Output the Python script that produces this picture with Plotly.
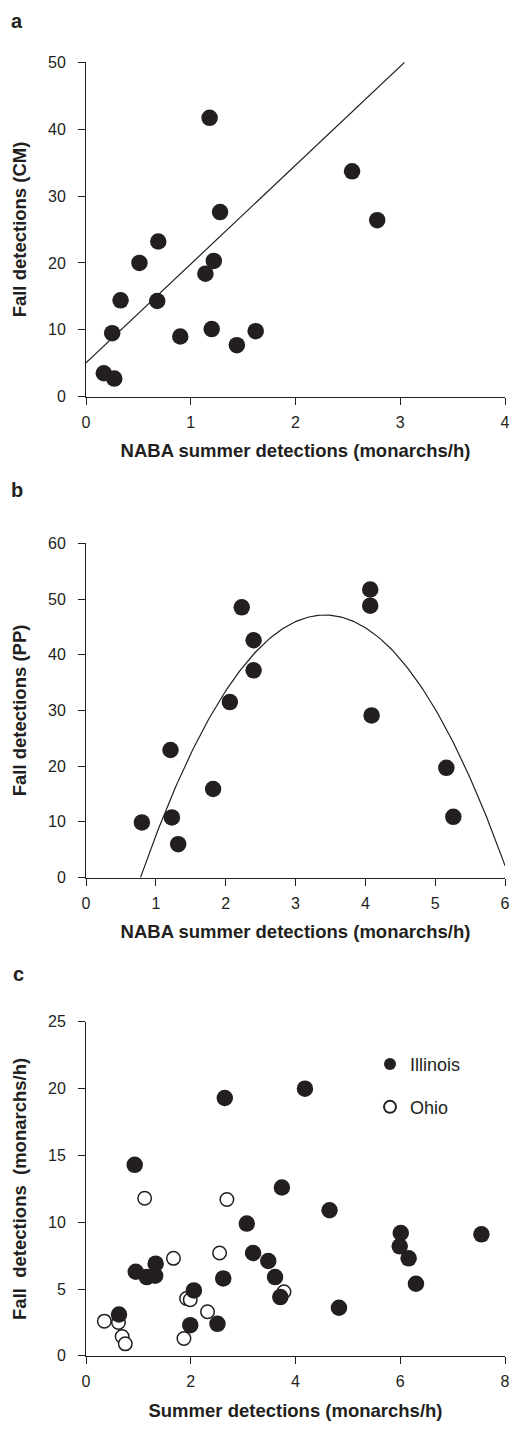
import numpy as np
import plotly.graph_objects as go

# ---------------- data ----------------
# Panel a: NABA summer vs fall detections (CM)
a_x = [0.17, 0.27, 0.25, 0.33, 0.51, 0.69, 0.68, 0.90, 1.14, 1.22, 1.18, 1.28, 1.20, 1.44, 1.62, 2.54, 2.78]
a_y = [3.5, 2.7, 9.5, 14.4, 20.0, 23.2, 14.3, 9.0, 18.4, 20.3, 41.7, 27.6, 10.1, 7.7, 9.8, 33.7, 26.4]
a_fit_intercept = 5.05
a_fit_slope = 14.78

# Panel b: NABA summer vs fall detections (PP)
b_x = [0.80, 1.21, 1.23, 1.32, 1.82, 2.06, 2.23, 2.40, 2.40, 4.07, 4.07, 4.09, 5.16, 5.26]
b_y = [9.9, 22.9, 10.8, 6.0, 15.9, 31.5, 48.5, 42.6, 37.2, 51.7, 48.8, 29.1, 19.7, 10.9]
b_fit_coef = [-6.76, 46.24, -31.95]  # quadratic: b2, b1, b0

# Panel c: Illinois and Ohio
c_ill_x = [0.93, 2.65, 4.18, 3.74, 4.65, 3.07, 6.01, 5.99, 6.16, 6.30, 7.55, 3.19, 3.48,
           3.61, 3.71, 4.83, 2.62, 2.06, 1.99, 2.51, 0.95, 1.33, 1.16, 1.32, 0.63]
c_ill_y = [14.3, 19.3, 20.0, 12.6, 10.9, 9.9, 9.2, 8.2, 7.3, 5.4, 9.1, 7.7, 7.1,
           5.9, 4.4, 3.6, 5.8, 4.9, 2.3, 2.4, 6.3, 6.9, 5.9, 6.0, 3.1]
c_ohio_x = [1.12, 2.69, 1.67, 2.55, 1.92, 1.99, 2.32, 1.87, 0.35, 0.62, 0.69, 0.75, 3.78]
c_ohio_y = [11.8, 11.7, 7.3, 7.7, 4.3, 4.2, 3.3, 1.3, 2.6, 2.5, 1.45, 0.9, 4.8]

# ---------------- layout geometry (pixels) ----------------
W, H = 512, 1438
ML, MR = 86, 7
PW = W - ML - MR
panels_px = [(55, 393.3), (541.7, 880), (1026, 1364)]  # (top, bottom)


def px_x(px):
    return (px - ML) / PW


def px_y(py):
    return 1 - py / H


INK = "#231f20"
FONT = "Liberation Sans, Arial, Helvetica, sans-serif"

fig = go.Figure()

# Panel a
xa = np.array([0, (50 - a_fit_intercept) / a_fit_slope])
fig.add_trace(go.Scatter(x=xa, y=a_fit_intercept + a_fit_slope * xa, mode="lines",
                         line=dict(color=INK, width=1.2), showlegend=False,
                         xaxis="x", yaxis="y", hoverinfo="skip"))
fig.add_trace(go.Scatter(x=a_x, y=a_y, mode="markers", showlegend=False,
                         marker=dict(size=16.5, color=INK), cliponaxis=False,
                         xaxis="x", yaxis="y"))

# Panel b
roots = np.sort(np.real(np.roots(b_fit_coef)))
xb = np.linspace(roots[0], 6, 200)
fig.add_trace(go.Scatter(x=xb, y=np.polyval(b_fit_coef, xb), mode="lines",
                         line=dict(color=INK, width=1.2), showlegend=False,
                         xaxis="x2", yaxis="y2", hoverinfo="skip"))
fig.add_trace(go.Scatter(x=b_x, y=b_y, mode="markers", showlegend=False,
                         marker=dict(size=16.5, color=INK), cliponaxis=False,
                         xaxis="x2", yaxis="y2"))

# Panel c
fig.add_trace(go.Scatter(x=c_ohio_x, y=c_ohio_y, mode="markers", name="Ohio",
                         marker=dict(size=13.5, color="white", line=dict(color=INK, width=1.5)),
                         cliponaxis=False, xaxis="x3", yaxis="y3", legend="legend2"))
fig.add_trace(go.Scatter(x=c_ill_x, y=c_ill_y, mode="markers", name="Illinois",
                         marker=dict(size=16.5, color=INK),
                         cliponaxis=False, xaxis="x3", yaxis="y3", legend="legend"))

axis_common = dict(showgrid=False, zeroline=False, showline=True, linecolor=INK, linewidth=1,
                   ticks="outside", ticklen=7, tickcolor=INK, tickwidth=1,
                   tickfont=dict(family=FONT, size=16, color=INK))
title_font = dict(family=FONT, size=18.5, color=INK, weight="bold")

x_titles = ["NABA summer detections (monarchs/h)", "NABA summer detections (monarchs/h)",
            "Summer detections (monarchs/h)"]
y_titles = ["Fall detections (CM)", "Fall detections (PP)",
            "Fall\u00a0 detections\u00a0 (monarchs/h)"]
x_ranges = [(0, 4, 1), (0, 6, 1), (0, 8, 2)]
y_ranges = [(0, 50, 10), (0, 60, 10), (0, 25, 5)]

layout = dict(width=W, height=H, margin=dict(l=ML, r=MR, t=0, b=0),
              paper_bgcolor="white", plot_bgcolor="white",
              font=dict(family=FONT, color=INK))
for i in range(3):
    sfx = "" if i == 0 else str(i + 1)
    top, bot = panels_px[i]
    layout["xaxis" + sfx] = dict(axis_common, domain=[0, 1], anchor="y" + sfx,
                                 range=[x_ranges[i][0], x_ranges[i][1]], dtick=x_ranges[i][2],
                                 tick0=0, ticklabelstandoff=4,
                                 title=dict(text=x_titles[i], font=title_font, standoff=14))
    layout["yaxis" + sfx] = dict(axis_common, domain=[px_y(bot), px_y(top)], anchor="x" + sfx,
                                 range=[y_ranges[i][0], y_ranges[i][1]], dtick=y_ranges[i][2],
                                 tick0=0, ticklabelstandoff=9,
                                 title=dict(text=y_titles[i], font=title_font, standoff=16))

leg_font = dict(family=FONT, size=18, color=INK)
layout["legend"] = dict(x=px_x(370), y=px_y(1069), xanchor="left", yanchor="middle",
                        font=leg_font, itemsizing="constant", bgcolor="rgba(0,0,0,0)",
                        borderwidth=0)
layout["legend2"] = dict(x=px_x(370), y=px_y(1112.3), xanchor="left", yanchor="middle",
                         font=leg_font, itemsizing="constant", bgcolor="rgba(0,0,0,0)",
                         borderwidth=0)

letter_font = dict(family=FONT, size=20, color=INK, weight="bold")
layout["annotations"] = [
    dict(text=t, x=px_x(xp), y=px_y(yp), xref="paper", yref="paper", showarrow=False,
         xanchor="center", yanchor="middle", font=letter_font)
    for t, xp, yp in [("a", 17, 13), ("b", 17, 487.5), ("c", 18, 978)]
]

fig.update_layout(**layout)
fig.write_html("out.html",
               config=dict(displayModeBar=False),
               post_script="document.body.style.margin='0';document.body.style.padding='0';"
                           "document.documentElement.style.overflow='hidden';")
